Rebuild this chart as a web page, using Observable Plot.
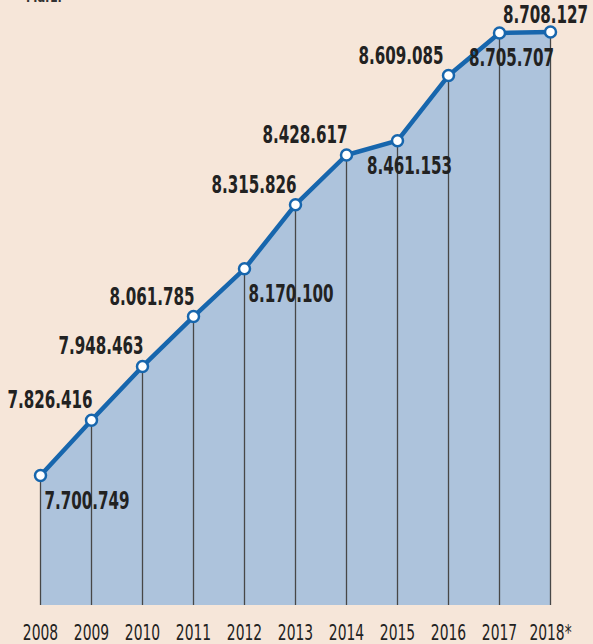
<!DOCTYPE html>
<html>
<head>
<meta charset="utf-8">
<script src="https://cdn.jsdelivr.net/npm/d3@7"></script>
<script src="https://cdn.jsdelivr.net/npm/@observablehq/plot@0.6"></script>
<style>
  html, body { margin: 0; padding: 0; background: #f6e6d9; }
  body { width: 593px; height: 644px; overflow: hidden; position: relative; }
  #note { position: absolute; left: 26px; top: -10px; font: bold 15px/15px "DejaVu Sans Condensed", sans-serif; color: #333; transform: scaleX(0.85); transform-origin: left top; }
  #chart { position: absolute; left: 0; top: 0; }
</style>
</head>
<body>
<div id="note">März.</div>
<div id="chart"></div>
<script>
// Data
const years = ["2008", "2009", "2010", "2011", "2012", "2013", "2014", "2015", "2016", "2017", "2018*"];
const inhabitants = [7700749, 7826416, 7948463, 8061785, 8170100, 8315826, 8428617, 8461153, 8609085, 8705707, 8708127];

const data = years.map((year, i) => ({year, value: inhabitants[i]}));

const fmt = d3.formatLocale({decimal: ",", thousands: ".", grouping: [3], currency: ["", "€"]}).format(",d");

const yMin = 7405500, yMax = 8734100;
const font = '"DejaVu Sans Condensed", "DejaVu Sans", sans-serif';
const blue = "#1766ad";

// label placement groups
const aboveLeft = new Set(["2009", "2010", "2011", "2013", "2014"]);
const aboveLeftFar = new Set(["2016"]);
const belowRight = new Set(["2008", "2012"]);
const belowCenter = new Set(["2015", "2017"]);
const aboveCenter = new Set(["2018*"]);

const textOpts = {x: "year", y: "value", text: d => fmt(d.value), fontSize: 24, fontWeight: "bold", fill: "#222", className: "vlabel"};

const chart = Plot.plot({
  width: 593,
  height: 644,
  marginTop: 20,
  marginBottom: 39,
  marginLeft: 38,
  marginRight: 42,
  style: {background: "transparent", fontFamily: font, color: "#222"},
  x: {type: "point", domain: years, padding: 0, axis: null},
  y: {domain: [yMin, yMax], axis: null},
  marks: [
    Plot.areaY(data, {x: "year", y1: yMin, y2: "value", fill: "#adc3dc"}),
    Plot.ruleX(data, {x: "year", y1: yMin, y2: "value", stroke: "#474747", strokeWidth: 1.3}),
    Plot.lineY(data, {x: "year", y: "value", stroke: blue, strokeWidth: 4.5, strokeLinejoin: "round"}),
    Plot.dot(data, {x: "year", y: "value", r: 5.5, fill: "white", stroke: blue, strokeWidth: 2.5}),
    Plot.text(data.filter(d => aboveLeft.has(d.year)), {...textOpts, textAnchor: "end", lineAnchor: "bottom", dx: 1, dy: -12}),
    Plot.text(data.filter(d => aboveLeftFar.has(d.year)), {...textOpts, textAnchor: "end", lineAnchor: "bottom", dx: -5, dy: -12}),
    Plot.text(data.filter(d => belowRight.has(d.year)), {...textOpts, textAnchor: "start", lineAnchor: "top", dx: 4, dy: 16}),
    Plot.text(data.filter(d => belowCenter.has(d.year)), {...textOpts, textAnchor: "middle", lineAnchor: "top", dx: 12, dy: 16}),
    Plot.text(data.filter(d => aboveCenter.has(d.year)), {...textOpts, textAnchor: "middle", lineAnchor: "bottom", dx: -5, dy: -9}),
    Plot.axisX({tickSize: 0, tickPadding: 19, fontSize: 22, label: null, fill: "#222", className: "tlabel"})
  ]
});

document.getElementById("chart").appendChild(chart);

// condense the glyphs horizontally (no condensed font is installed)
function condense(selector, k) {
  chart.querySelectorAll(selector).forEach(t => {
    const w = t.getComputedTextLength();
    t.setAttribute("textLength", (w * k).toFixed(1));
    t.setAttribute("lengthAdjust", "spacingAndGlyphs");
  });
}
condense(".vlabel text", 0.70);
condense(".tlabel text", 0.70);
</script>
</body>
</html>
